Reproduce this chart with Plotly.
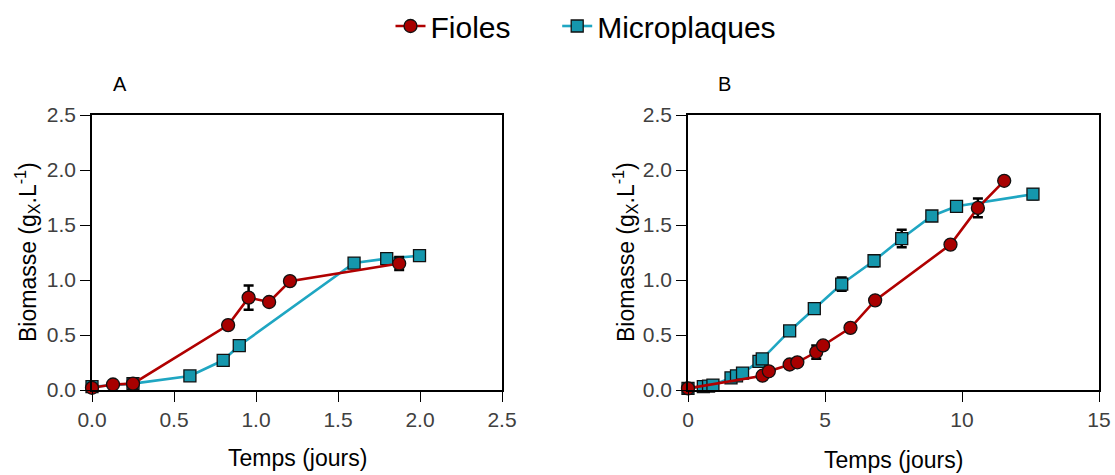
import plotly.graph_objects as go

# ---- Data: panel A ----
a_fioles_x = [0.0, 0.128, 0.25, 0.83, 0.955, 1.08, 1.207, 1.873]
a_fioles_y = [0.02, 0.05, 0.058, 0.59, 0.84, 0.80, 0.99, 1.15]
a_fioles_err = [0, 0, 0, 0, 0.11, 0, 0, 0.06]

a_micro_x = [0.0, 0.25, 0.597, 0.80, 0.898, 1.598, 1.797, 1.997]
a_micro_y = [0.03, 0.058, 0.128, 0.27, 0.404, 1.154, 1.194, 1.221]
a_micro_err = [0, 0, 0, 0, 0, 0, 0, 0]

# ---- Data: panel B ----
b_fioles_x = [0.0, 2.72, 2.95, 3.71, 3.99, 4.68, 4.93, 5.93, 6.83, 9.58, 10.58, 11.54]
b_fioles_y = [0.015, 0.13, 0.17, 0.232, 0.252, 0.345, 0.405, 0.565, 0.815, 1.322, 1.655, 1.902]
b_fioles_err = [0, 0, 0, 0, 0, 0.06, 0, 0, 0, 0, 0.085, 0]

b_micro_x = [0.0, 0.56, 0.75, 0.91, 1.57, 1.77, 1.99, 2.59, 2.71, 3.71, 4.61, 5.61, 6.79, 7.80, 8.90, 9.80, 12.59]
b_micro_y = [0.015, 0.03, 0.036, 0.045, 0.11, 0.128, 0.154, 0.26, 0.283, 0.537, 0.74, 0.963, 1.175, 1.377, 1.582, 1.67, 1.78]
b_micro_err = [0, 0, 0, 0, 0, 0, 0, 0.02, 0, 0, 0.03, 0.06, 0.05, 0.08, 0, 0.04, 0.045]

x_ticks_a = [0, 0.5, 1.0, 1.5, 2.0, 2.5]
x_ticks_b = [0, 5, 10, 15]
y_ticks = [0, 0.5, 1.0, 1.5, 2.0, 2.5]

RED = "#a80000"
RED_LINE = "#b00000"
TEAL = "#1597ad"
TEAL_LINE = "#1fa6c2"
FONT = "Arial, Liberation Sans, sans-serif"

W, H = 1115, 475

def px_x(p):
    return p / W

def px_y(p):
    return 1 - p / H

fig = go.Figure()

def add_series(x, y, err, name, xa, ya, color, lcolor, symbol, size, showlegend):
    fig.add_trace(go.Scatter(
        x=x, y=y, name=name, mode="lines+markers",
        xaxis=xa, yaxis=ya, showlegend=showlegend, cliponaxis=False,
        line=dict(color=lcolor, width=2.6),
        marker=dict(symbol=symbol, size=size, color=color,
                    line=dict(color="#111111", width=1.3)),
        error_y=dict(type="data", array=err, visible=True,
                     color="#000000", thickness=2.5, width=5),
    ))

NBSP = "\u00a0"
add_series(a_micro_x, a_micro_y, a_micro_err, "Microplaques", "x", "y", TEAL, TEAL_LINE, "square", 12, False)
add_series(a_fioles_x, a_fioles_y, a_fioles_err, "Fioles" + NBSP * 5, "x", "y", RED, RED_LINE, "circle", 13, True)
add_series(b_micro_x, b_micro_y, b_micro_err, "Microplaques", "x2", "y2", TEAL, TEAL_LINE, "square", 12, True)
add_series(b_fioles_x, b_fioles_y, b_fioles_err, "Fioles", "x2", "y2", RED, RED_LINE, "circle", 13, False)

axis_common = dict(
    showline=True, linecolor="#000000", linewidth=1.6, mirror=True,
    ticks="outside", ticklen=10, tickwidth=1.4, tickcolor="#000000",
    showgrid=False, zeroline=False, automargin=False,
    tickfont=dict(family=FONT, size=21, color="#404040"),
)

ydom = [px_y(390), px_y(115)]

fig.update_layout(
    width=W, height=H,
    margin=dict(l=0, r=0, t=0, b=0, pad=0),
    paper_bgcolor="white", plot_bgcolor="white",
    font=dict(family=FONT),
    xaxis=dict(domain=[px_x(92), px_x(502)], range=[0, 2.5], tickvals=x_ticks_a,
               tickformat=".1f", anchor="y", **axis_common),
    yaxis=dict(domain=ydom, range=[0, 2.5], tickvals=y_ticks, tickformat=".1f",
               anchor="x", **axis_common),
    xaxis2=dict(domain=[px_x(688), px_x(1099)], range=[0, 15], tickvals=x_ticks_b,
                anchor="y2", **axis_common),
    yaxis2=dict(domain=ydom, range=[0, 2.5], tickvals=y_ticks, tickformat=".1f",
                anchor="x2", **axis_common),
    legend=dict(orientation="h", x=px_x(586), xanchor="center",
                y=1.0, yanchor="top",
                font=dict(family=FONT, size=30, color="#000000"),
                traceorder="normal", itemwidth=30, tracegroupgap=0),
    showlegend=True,
)

def ann(text, x, y, size, angle=0):
    return dict(text=text, x=px_x(x), y=px_y(y), xref="paper", yref="paper",
                xanchor="center", yanchor="middle", textangle=angle,
                showarrow=False, font=dict(family=FONT, size=size, color="#000000"))

annotations = [
    ann("A", 120, 84, 20),
    ann("B", 724, 84, 20),
    ann("Temps (jours)", 297, 458, 23),
    ann("Temps (jours)", 893, 460, 23),
    ann("Biomasse (g<sub>X</sub>.L<sup>-1</sup>)", 27, 252, 23, -90),
    ann("Biomasse (g<sub>X</sub>.L<sup>-1</sup>)", 625, 252, 23, -90),
]
fig.update_layout(annotations=annotations)

fig.write_html("out.html",
               config={"displayModeBar": False},
               post_script="document.body.style.margin='0';document.body.style.overflow='hidden';")
